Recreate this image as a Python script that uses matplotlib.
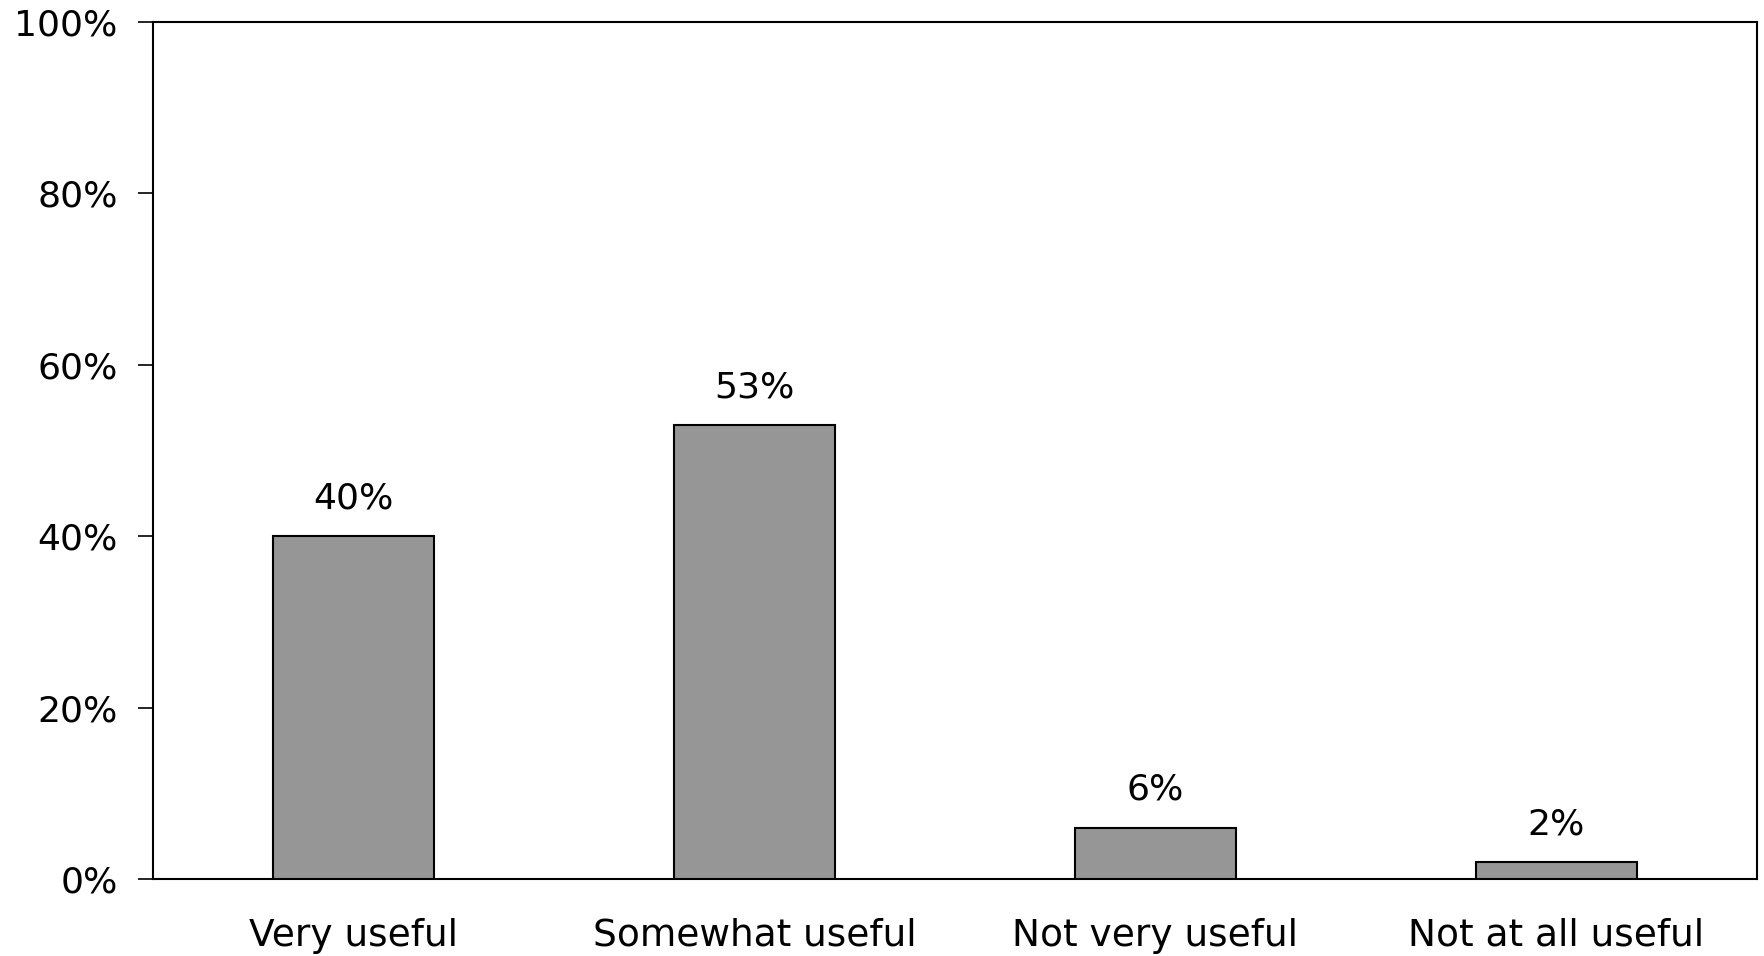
import matplotlib
matplotlib.use("Agg")
import matplotlib.pyplot as plt
from matplotlib.ticker import FuncFormatter

categories = ["Very useful", "Somewhat useful", "Not very useful", "Not at all useful"]
values = [40, 53, 6, 2]
y_ticks = [0, 20, 40, 60, 80, 100]

plt.rcParams["font.family"] = ["DejaVu Sans"]

fig = plt.figure(figsize=(17.64, 9.56), dpi=100)
ax = fig.add_axes([153 / 1764, 1 - 879 / 956, 1604 / 1764, 857 / 956])

x = range(len(categories))
bars = ax.bar(x, values, width=0.4, color="#969696", edgecolor="black", linewidth=1.5, zorder=3)

for rect, v in zip(bars, values):
    ax.annotate(f"{v:.0f}%", (rect.get_x() + rect.get_width() / 2, rect.get_height()),
                xytext=(0, 20), textcoords="offset points", ha="center", va="baseline",
                fontsize=26)

ax.set_xlim(-0.5, len(categories) - 0.5)
ax.set_ylim(0, 100)
ax.set_yticks(y_ticks)
ax.yaxis.set_major_formatter(FuncFormatter(lambda v, _: f"{v:.0f}%"))
ax.set_xticks(list(x))
ax.set_xticklabels(categories)
ax.tick_params(axis="y", length=10.5, width=1.2, pad=15, labelsize=26, direction="out")
ax.tick_params(axis="x", length=0, pad=28, labelsize=27)

for s in ax.spines.values():
    s.set_linewidth(1.5)
    s.set_color("black")

fig.savefig("out.png", dpi=100, facecolor="white")
